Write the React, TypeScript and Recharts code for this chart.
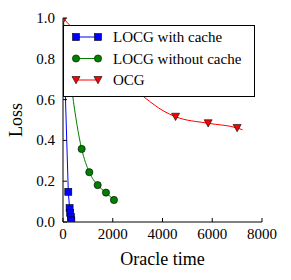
import React from 'react';
import { ComposedChart, Line, XAxis, YAxis, Legend } from 'recharts';

const FONT = '"Liberation Serif", "DejaVu Serif", serif';

// LOCG with cache
const blueX = [0, 213, 265, 290, 315, 335];
const blueY = [1.0, 0.148, 0.068, 0.045, 0.025, 0.008];
// LOCG without cache
const greenX = [0, 750, 1057, 1393, 1727, 2048];
const greenY = [1.0, 0.358, 0.244, 0.181, 0.144, 0.108];
// OCG curve and markers
const redCurveX = [0, 3293, 4028, 4526, 5835, 7000, 7217];
const redCurveY = [1.0, 0.609, 0.545, 0.516, 0.484, 0.461, 0.452];
const redMarkX = [0, 4526, 5835, 7000];
const redMarkY = [0.99, 0.516, 0.484, 0.461];

const xTicks = [0, 2000, 4000, 6000, 8000];
const yTicks = [0, 0.2, 0.4, 0.6, 0.8, 1.0];

const seriesNames = ['LOCG with cache', 'LOCG without cache', 'OCG'];

const zip = (xs: number[], ys: number[]) => xs.map((x, i) => ({ x, y: ys[i] }));
const blueData = zip(blueX, blueY);
const greenData = zip(greenX, greenY);
const redCurve = zip(redCurveX, redCurveY);
const redMarks = zip(redMarkX, redMarkY);

const BLUE = '#0000ff';
const GREEN = '#008000';
const RED = '#ff0000';

const Square = ({ cx, cy, index }: any) =>
  cx == null || cy == null || index === 0 ? null : (
    <rect x={cx - 3.5} y={cy - 3.5} width={7} height={7} fill={BLUE} stroke="#000" strokeWidth={0.6} />
  );
const Circle = ({ cx, cy, index }: any) =>
  cx == null || cy == null || index === 0 ? null : (
    <circle cx={cx} cy={cy} r={3.6} fill={GREEN} stroke="#000" strokeWidth={0.6} />
  );
const Tri = ({ cx, cy }: any) =>
  cx == null || cy == null ? null : (
    <polygon
      points={`${cx - 4},${cy - 3.5} ${cx + 4},${cy - 3.5} ${cx},${cy + 3.8}`}
      fill={RED}
      stroke="#000"
      strokeWidth={0.6}
    />
  );

const txt = { fontFamily: FONT };

const BottomTick = ({ x, y, payload }: any) => (
  <g>
    <line x1={x} x2={x} y1={y} y2={y - 4} stroke="#000" />
    <text x={x} y={y + 17} textAnchor="middle" fontSize={15} style={txt} fill="#000">
      {payload.value}
    </text>
  </g>
);
const TopTick = ({ x, y }: any) => <line x1={x} x2={x} y1={y} y2={y + 4} stroke="#000" />;
const LeftTick = ({ x, y, payload }: any) => (
  <g>
    <line x1={x} x2={x + 4} y1={y} y2={y} stroke="#000" />
    <text x={x - 8} y={y + 5} textAnchor="end" fontSize={15} style={txt} fill="#000">
      {Number(payload.value).toFixed(1)}
    </text>
  </g>
);
const RightTick = ({ x, y }: any) => <line x1={x} x2={x - 4} y1={y} y2={y} stroke="#000" />;

const LegendBox = () => {
  const rows = [
    { name: seriesNames[0], color: BLUE, Mark: Square },
    { name: seriesNames[1], color: GREEN, Mark: Circle },
    { name: seriesNames[2], color: RED, Mark: Tri },
  ];
  return (
    <svg width={192} height={72} style={{ display: 'block', background: '#fff' }}>
      <rect x={0.5} y={0.5} width={191} height={71} fill="#fff" stroke="#000" strokeWidth={1} />
      {rows.map((r, i) => {
        const cy = 12 + i * 21.5;
        return (
          <g key={r.name}>
            <line x1={13} x2={35} y1={cy} y2={cy} stroke={r.color} strokeWidth={1} />
            <r.Mark cx={13} cy={cy} index={1} />
            <r.Mark cx={35} cy={cy} index={1} />
            <text x={50} y={cy + 5} fontSize={15} style={txt} fill="#000">
              {r.name}
            </text>
          </g>
        );
      })}
    </svg>
  );
};

export default function App() {
  return (
    <div style={{ position: 'absolute', left: 0, top: 0, background: '#fff' }}>
      <ComposedChart width={291} height={280} margin={{ top: 18, right: 29, bottom: 0, left: 0 }}>
        <XAxis
          dataKey="x"
          type="number"
          domain={[0, 8000]}
          ticks={xTicks}
          allowDataOverflow
          interval={0}
          height={58}
          tickSize={0}
          tickMargin={0}
          tickLine={false}
          axisLine={{ stroke: '#000' }}
          tick={<BottomTick />}
          label={(props: any) => {
            const vb = props.viewBox || { x: 63, width: 199, y: 222 };
            return (
              <text x={vb.x + vb.width / 2} y={265} textAnchor="middle" fontSize={18} style={txt} fill="#000">
                Oracle time
              </text>
            );
          }}
        />
        <XAxis
          xAxisId="top"
          orientation="top"
          dataKey="x"
          type="number"
          domain={[0, 8000]}
          ticks={xTicks}
          allowDataOverflow
          interval={0}
          height={0}
          tickSize={0}
          tickMargin={0}
          tickLine={false}
          axisLine={{ stroke: '#000' }}
          tick={<TopTick />}
        />
        <YAxis
          dataKey="y"
          type="number"
          domain={[0, 1]}
          ticks={yTicks}
          allowDataOverflow
          interval={0}
          width={63}
          tickSize={0}
          tickMargin={0}
          tickLine={false}
          axisLine={{ stroke: '#000' }}
          tick={<LeftTick />}
          label={() => (
            <text
              x={22}
              y={120}
              transform="rotate(-90, 22, 120)"
              textAnchor="middle"
              fontSize={18}
              style={txt}
              fill="#000"
            >
              Loss
            </text>
          )}
        />
        <YAxis
          yAxisId="right"
          orientation="right"
          dataKey="y"
          type="number"
          domain={[0, 1]}
          ticks={yTicks}
          allowDataOverflow
          interval={0}
          width={0}
          tickSize={0}
          tickMargin={0}
          tickLine={false}
          axisLine={{ stroke: '#000' }}
          tick={<RightTick />}
        />
        <Line
          data={blueData}
          dataKey="y"
          type="linear"
          stroke={BLUE}
          strokeWidth={1}
          dot={<Square />}
          activeDot={false}
          isAnimationActive={false}
          name={seriesNames[0]}
        />
        <Line
          data={greenData}
          dataKey="y"
          type="monotone"
          stroke={GREEN}
          strokeWidth={1}
          dot={<Circle />}
          activeDot={false}
          isAnimationActive={false}
          name={seriesNames[1]}
        />
        <Line
          data={redCurve}
          dataKey="y"
          type="monotone"
          stroke={RED}
          strokeWidth={1}
          dot={false}
          activeDot={false}
          isAnimationActive={false}
          name={seriesNames[2]}
        />
        <Line
          data={redMarks}
          dataKey="y"
          stroke="none"
          dot={<Tri />}
          activeDot={false}
          isAnimationActive={false}
          legendType="none"
        />
        <Legend
          layout="vertical"
          align="center"
          verticalAlign="middle"
          wrapperStyle={{ position: 'absolute', left: 63, top: 25, width: 192, height: 72, zIndex: 10 }}
          content={() => <LegendBox />}
        />
      </ComposedChart>
    </div>
  );
}
